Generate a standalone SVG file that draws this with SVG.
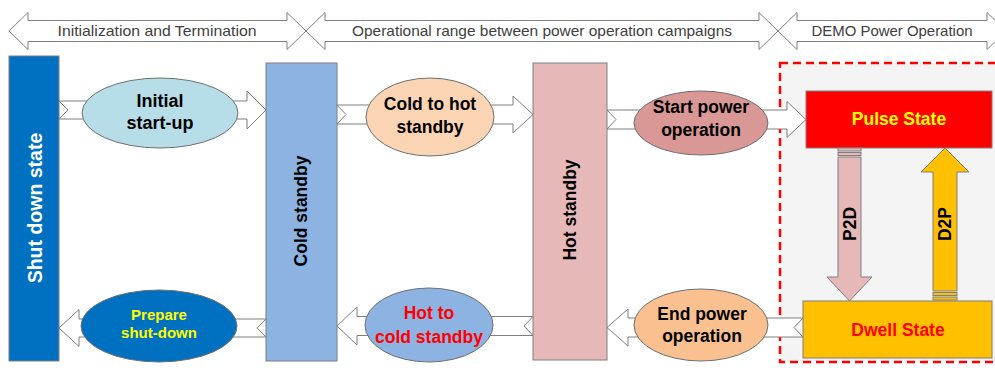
<svg xmlns="http://www.w3.org/2000/svg" width="995" height="372" viewBox="0 0 995 372">
  <style>
    text { font-family: "Liberation Sans", Arial, sans-serif; }
    .band { fill: #ffffff; stroke: #7f7f7f; stroke-width: 1; }
    .bandtxt { font-size: 14.5px; fill: #404040; text-anchor: middle; }
    .conn { fill: #ffffff; stroke: #7f7f7f; stroke-width: 1; }
    .box { stroke: #7f7f7f; stroke-width: 1; }
    .oval { stroke: #6f6f6f; stroke-width: 1; }
    .lbl { font-weight: bold; font-size: 17.5px; text-anchor: middle; fill: #000000; }
  </style>

  <!-- phase banners along the top -->
  <g id="phase-bands">
    <path class="band" d="M9,31 L28,12.5 L28,20.5 L287,20.5 L287,12.5 L306,31 L287,49.5 L287,41.5 L28,41.5 L28,49.5 Z"/>
    <text class="bandtxt" x="157" y="36" textLength="199" lengthAdjust="spacingAndGlyphs">Initialization and Termination</text>
    <path class="band" d="M306,31 L325,12.5 L325,20.5 L759,20.5 L759,12.5 L778,31 L759,49.5 L759,41.5 L325,41.5 L325,49.5 Z"/>
    <text class="bandtxt" x="542" y="36" textLength="380" lengthAdjust="spacingAndGlyphs">Operational range between power operation campaigns</text>
    <path class="band" d="M778,31 L797,12.5 L797,20.5 L987,20.5 L987,12.5 L1006,31 L987,49.5 L987,41.5 L797,41.5 L797,49.5 Z"/>
    <text class="bandtxt" x="892" y="36" textLength="161" lengthAdjust="spacingAndGlyphs">DEMO Power Operation</text>
  </g>

  <!-- power operation area -->
  <g id="demo-area">
    <rect x="780" y="63" width="230" height="299" fill="#f4f4f4" stroke="#ff0000" stroke-width="2.5" stroke-dasharray="8,5"/>
  </g>

  <!-- block arrows between states -->
  <g id="connectors">
    <path class="conn" d="M59,101 L247,101 L247,91 L266,110 L247,129 L247,119 L59,119 L68,110 Z"/>
    <path class="conn" d="M337,105 L513,105 L513,96 L533,114.5 L513,133 L513,124 L337,124 L346,114.5 Z"/>
    <path class="conn" d="M607,110 L787,110 L787,101.5 L806,119.5 L787,137.5 L787,129 L607,129 L616,119.5 Z"/>
    <path class="conn" d="M803,318 L628,318 L628,309 L607,327.5 L628,346 L628,337 L803,337 L794,327.5 Z"/>
    <path class="conn" d="M533,316.5 L357,316.5 L357,307 L337,326 L357,345 L357,335.5 L533,335.5 L524,326 Z"/>
    <path class="conn" d="M266,319 L79,319 L79,309.5 L59,328 L79,346.5 L79,337 L266,337 L257,328 Z"/>
  </g>

  <g id="shut-down-state">
    <rect class="box" x="9" y="56" width="50" height="305" fill="#0070c0"/>
    <text class="lbl" transform="translate(42,208) rotate(-90)" style="font-size:19.5px;fill:#ffffff">Shut down state</text>
  </g>

  <g id="initial-start-up">
    <ellipse class="oval" cx="160" cy="113" rx="78" ry="35" fill="#b7dee8"/>
    <text class="lbl" x="160" y="107" style="font-size:18px">Initial</text>
    <text class="lbl" x="160" y="129" style="font-size:18px">start-up</text>
  </g>

  <g id="cold-standby">
    <rect class="box" x="266" y="63" width="71" height="298" fill="#8db3e2"/>
    <text class="lbl" transform="translate(307,211) rotate(-90)">Cold standby</text>
  </g>

  <g id="cold-to-hot">
    <ellipse class="oval" cx="430" cy="117" rx="64" ry="39" fill="#fbd4b4"/>
    <text class="lbl" x="430" y="110">Cold to hot</text>
    <text class="lbl" x="430" y="133">standby</text>
  </g>

  <g id="hot-standby">
    <rect class="box" x="533" y="63" width="74" height="297" fill="#e6b8b7"/>
    <text class="lbl" transform="translate(576,210) rotate(-90)">Hot standby</text>
  </g>

  <g id="start-power-operation">
    <ellipse class="oval" cx="701" cy="123" rx="67" ry="32" fill="#d99795"/>
    <text class="lbl" x="701" y="113">Start power</text>
    <text class="lbl" x="701" y="136">operation</text>
  </g>

  <g id="pulse-state">
    <rect class="box" x="806" y="91" width="186" height="57" fill="#ff0000"/>
    <text class="lbl" x="899" y="125" style="fill:#ffff00">Pulse State</text>
  </g>

  <g id="p2d">
    <rect class="box" x="838" y="148" width="23" height="3" fill="#e6b8b7"/>
    <rect class="box" x="838" y="152.5" width="23" height="3" fill="#e6b8b7"/>
    <path class="box" d="M838,157 L861,157 L861,277 L872,277 L849.5,301 L827,277 L838,277 Z" fill="#e6b8b7"/>
    <text class="lbl" transform="translate(856,224) rotate(-90)">P2D</text>
  </g>

  <g id="d2p">
    <path class="box" d="M945,148 L969,172 L957,172 L957,291 L933,291 L933,172 L921,172 Z" fill="#ffc000"/>
    <rect class="box" x="933" y="292.5" width="24" height="3" fill="#ffc000"/>
    <rect class="box" x="933" y="297" width="24" height="3" fill="#ffc000"/>
    <text class="lbl" transform="translate(951,224) rotate(-90)">D2P</text>
  </g>

  <g id="dwell-state">
    <rect class="box" x="803" y="301" width="189" height="57" fill="#ffc000"/>
    <text class="lbl" x="898" y="336" style="fill:#ff0000">Dwell State</text>
  </g>

  <g id="end-power-operation">
    <ellipse class="oval" cx="701" cy="325" rx="67" ry="36" fill="#fac090"/>
    <text class="lbl" x="702" y="320">End power</text>
    <text class="lbl" x="702" y="342">operation</text>
  </g>

  <g id="hot-to-cold">
    <ellipse class="oval" cx="429" cy="325" rx="64" ry="37" fill="#8db3e2"/>
    <text class="lbl" x="429" y="319" style="fill:#ff0000">Hot to</text>
    <text class="lbl" x="429" y="343" style="fill:#ff0000">cold standby</text>
  </g>

  <g id="prepare-shut-down">
    <ellipse class="oval" cx="159" cy="326" rx="78" ry="36" fill="#0070c0"/>
    <text class="lbl" x="159" y="320" style="font-size:15px;fill:#ffff00">Prepare</text>
    <text class="lbl" x="159" y="338" style="font-size:15px;fill:#ffff00">shut-down</text>
  </g>
</svg>
